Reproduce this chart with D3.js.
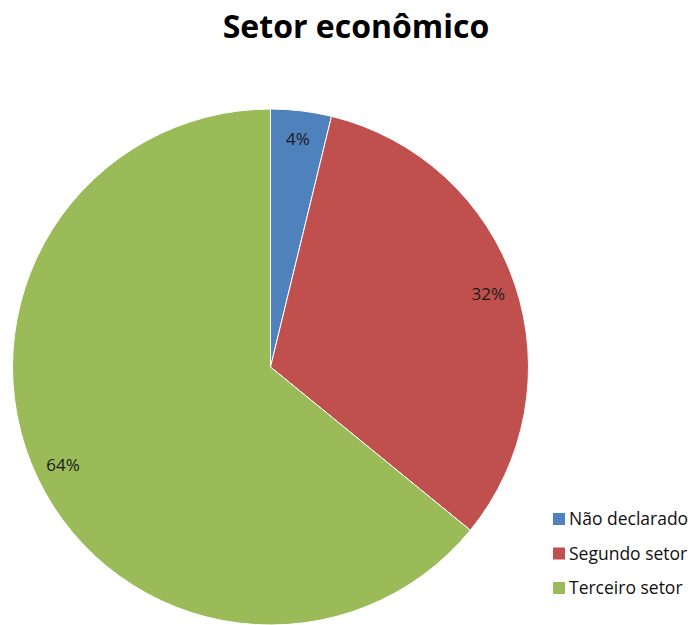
<!DOCTYPE html>
<html>
<head>
<meta charset="utf-8">
<script src="https://cdn.jsdelivr.net/npm/d3@7"></script>
<style>
  body { margin: 0; background: #fff; }
  text { font-family: "Open Sans", "Liberation Sans", sans-serif; }
</style>
</head>
<body>
<div id="chart"></div>
<script>
// data
var categories = ["Não declarado", "Segundo setor", "Terceiro setor"];
var values = [3.8, 32.1, 64.1];
var labels = ["4%", "32%", "64%"];
var colors = ["#4F81BD", "#C0504D", "#9BBB59"];

var width = 693, height = 625;
var cx = 270.5, cy = 367, radius = 258;

var svg = d3.select("#chart").append("svg")
    .attr("width", width)
    .attr("height", height);

svg.append("text")
    .attr("x", 356)
    .attr("y", 38)
    .attr("text-anchor", "middle")
    .style("font-size", "32px")
    .style("font-weight", "bold")
    .text("Setor econômico");

var pie = d3.pie().sort(null).value(function(d) { return d; });
var arcs = pie(values);

var arc = d3.arc().innerRadius(0).outerRadius(radius);
var labelArc = d3.arc().innerRadius(radius * 0.89).outerRadius(radius * 0.89);

var g = svg.append("g")
    .attr("transform", "translate(" + cx + "," + cy + ")");

g.selectAll("path")
    .data(arcs)
    .enter().append("path")
    .attr("d", arc)
    .attr("fill", function(d, i) { return colors[i]; })
    .attr("stroke", "#fff")
    .attr("stroke-width", 1);

g.selectAll("text.lbl")
    .data(arcs)
    .enter().append("text")
    .attr("class", "lbl")
    .attr("transform", function(d) { return "translate(" + labelArc.centroid(d) + ")"; })
    .attr("text-anchor", "middle")
    .attr("dy", "0.35em")
    .style("font-size", "17px")
    .style("fill", "#1a1a1a")
    .text(function(d, i) { return labels[i]; });

// legend
var legend = svg.selectAll(".legend")
    .data(categories)
    .enter().append("g")
    .attr("class", "legend")
    .attr("transform", function(d, i) { return "translate(553," + (513 + i * 34.5) + ")"; });
legend.append("rect")
    .attr("width", 12)
    .attr("height", 12)
    .attr("fill", function(d, i) { return colors[i]; });
legend.append("text")
    .attr("x", 16)
    .attr("y", 6)
    .attr("dy", "0.35em")
    .style("font-size", "17.5px")
    .style("fill", "#111")
    .text(function(d) { return d; });
</script>
</body>
</html>
